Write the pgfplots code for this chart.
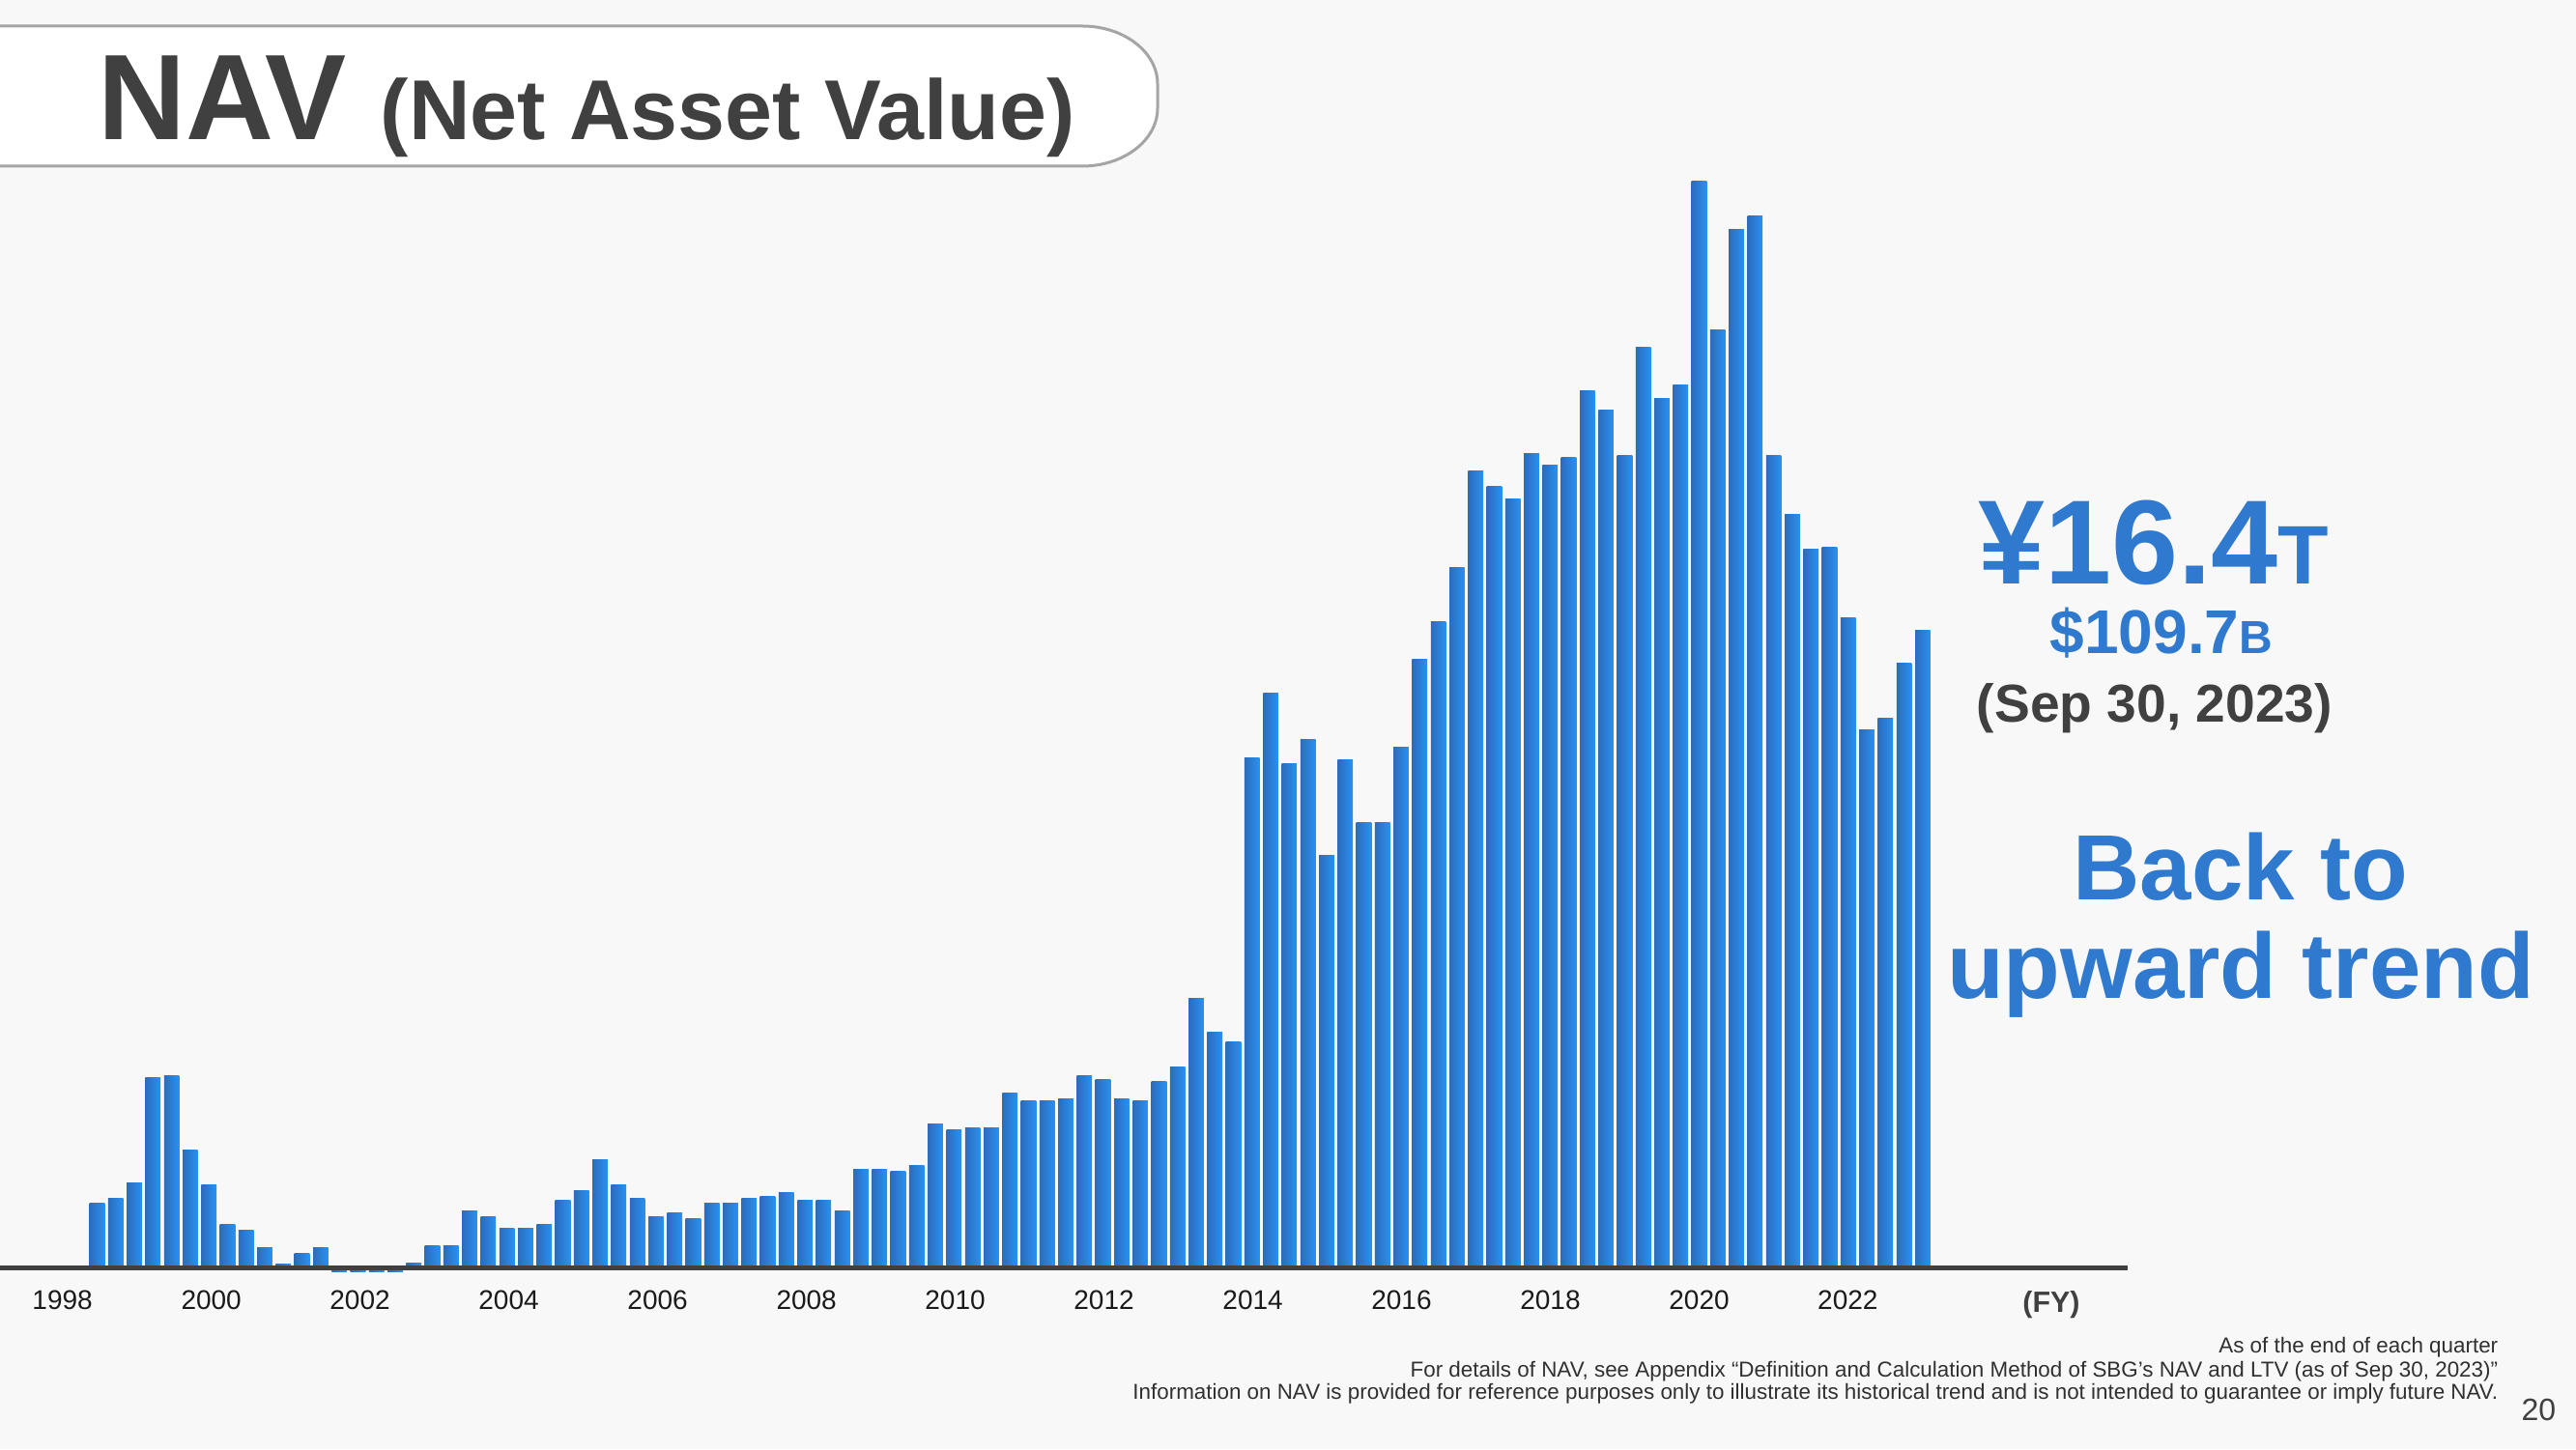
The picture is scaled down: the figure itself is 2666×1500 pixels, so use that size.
\documentclass[border=0pt]{standalone}
\usepackage{fontspec}
\setmainfont{Liberation Sans}
\usepackage{pgfplots}
\usepackage{pgfplotstable}
\pgfplotsset{compat=1.18}
\definecolor{navblue}{RGB}{47,121,207}
\definecolor{txtdark}{RGB}{64,64,64}
\definecolor{barL}{RGB}{44,108,188}
\definecolor{barR}{RGB}{40,146,242}
\definecolor{bgc}{RGB}{248,248,248}
\definecolor{boxline}{RGB}{165,165,165}
\definecolor{axisline}{RGB}{64,64,64}
\definecolor{foot}{RGB}{48,48,48}

\pgfplotstableread{
x y
1 1.60
2 1.74
3 2.12
4 4.86
5 4.91
6 2.99
7 2.09
8 1.05
9 0.90
10 0.45
11 0.03
12 0.32
13 0.47
14 -0.15
15 -0.15
16 -0.15
17 -0.15
18 0.05
19 0.52
20 0.52
21 1.40
22 1.25
23 0.95
24 0.95
25 1.05
26 1.67
27 1.92
28 2.72
29 2.09
30 1.74
31 1.27
32 1.35
33 1.22
34 1.62
35 1.62
36 1.74
37 1.79
38 1.89
39 1.67
40 1.69
41 1.42
42 2.49
43 2.49
44 2.44
45 2.59
46 3.66
47 3.49
48 3.56
49 3.54
50 4.44
51 4.24
52 4.24
53 4.31
54 4.89
55 4.81
56 4.31
57 4.26
58 4.76
59 5.11
60 6.88
61 6.01
62 5.76
63 13.11
64 14.76
65 12.94
66 13.56
67 10.57
68 13.04
69 11.44
70 11.42
71 13.38
72 15.65
73 16.62
74 18.00
75 20.49
76 20.09
77 19.79
78 20.94
79 20.64
80 20.84
81 22.56
82 22.06
83 20.89
84 23.68
85 22.36
86 22.71
87 27.97
88 24.13
89 26.74
90 27.07
91 20.91
92 19.37
93 18.47
94 18.52
95 16.72
96 13.83
97 14.11
98 15.53
99 16.40
}\navdata

\begin{document}
\begin{tikzpicture}[x=0.25pt,y=0.25pt]
\useasboundingbox (0,0) rectangle (2666,1500);
\clip (0,0) rectangle (2666,1500);
\fill[bgc] (0,0) rectangle (2666,1500);
% title box
\filldraw[fill=white, draw=boxline, line width=0.75pt] (-20,1473) -- (1120,1473)
  arc[start angle=90,end angle=0,x radius=78,y radius=60] -- (1198,1388)
  arc[start angle=0,end angle=-90,x radius=78,y radius=60] -- (-20,1328);
\node[anchor=base west, inner sep=0, text=txtdark] at (101,1355)
  {\fontsize{31.5pt}{31.5pt}\selectfont\bfseries NAV};
\node[anchor=base west, inner sep=0, text=txtdark] at (393,1355)
  {\fontsize{22pt}{22pt}\selectfont\bfseries (Net Asset Value)};

\begin{axis}[
  at={(0pt,42.485pt)}, anchor=south west,
  scale only axis, width=550pt, height=295.885pt,
  xmin=-4.213, xmax=109.9, ymin=-0.5, ymax=29,
  axis line style={draw=none},
  ytick=\empty,
  xtick={-0.86,7.13,15.11,23.10,31.09,39.08,47.06,55.05,63.04,71.02,79.01,87.00,94.98},
  xticklabels={1998,2000,2002,2004,2006,2008,2010,2012,2014,2016,2018,2020,2022},
  major tick length=0pt,
  xticklabel style={anchor=base, yshift=-6.4pt, inner sep=0pt, text={rgb,255:red,26;green,26;blue,26},
    font=\fontsize{7pt}{8pt}\selectfont},
  clip=false,
]
\pgfplotsinvokeforeach{1,...,99}{
  \addplot[ybar, bar width=0.814, draw=none, left color=barL, right color=barR, forget plot]
    table[x=x,y=y, restrict x to domain=#1:#1]{\navdata};
}
\end{axis}
\draw[axisline, line width=1.25pt] (0,187.5) -- (2202,187.5);

\node[anchor=base, inner sep=0, text=txtdark] at (2123,142)
  {\fontsize{7.6pt}{7.6pt}\selectfont\bfseries (FY)};

% right annotations
\node[anchor=base, inner sep=0, text=navblue] at (2229,895)
  {\fontsize{31pt}{31pt}\selectfont\bfseries ¥16.4\fontsize{21.5pt}{21.5pt}\selectfont T};
\node[anchor=base, inner sep=0, text=navblue] at (2237,823)
  {\fontsize{16pt}{16pt}\selectfont\bfseries \$109.7\fontsize{12pt}{12pt}\selectfont B};
\node[anchor=base, inner sep=0, text=txtdark] at (2230,752)
  {\fontsize{13.8pt}{14pt}\selectfont\bfseries (Sep 30, 2023)};
\node[anchor=base, inner sep=0, text=navblue] at (2319,568)
  {\fontsize{24pt}{24pt}\selectfont\bfseries Back to};
\node[anchor=base, inner sep=0, text=navblue] at (2319,466)
  {\fontsize{24pt}{24pt}\selectfont\bfseries upward trend};

% footnotes
\node[anchor=base east, inner sep=0, text=foot] at (2586,99.3)
  {\fontsize{5.6pt}{6pt}\selectfont As of the end of each quarter};
\node[anchor=base east, inner sep=0, text=foot] at (2586,75)
  {\fontsize{5.6pt}{6pt}\selectfont For details of NAV, see Appendix “Definition and Calculation Method of SBG’s NAV and LTV (as of Sep 30, 2023)”};
\node[anchor=base east, inner sep=0, text=foot] at (2586,52)
  {\fontsize{5.6pt}{6pt}\selectfont Information on NAV is provided for reference purposes only to illustrate its historical trend and is not intended to guarantee or imply future NAV.};
\node[anchor=base east, inner sep=0, text=txtdark] at (2646,29.3)
  {\fontsize{8pt}{8pt}\selectfont 20};
\end{tikzpicture}
\end{document}
